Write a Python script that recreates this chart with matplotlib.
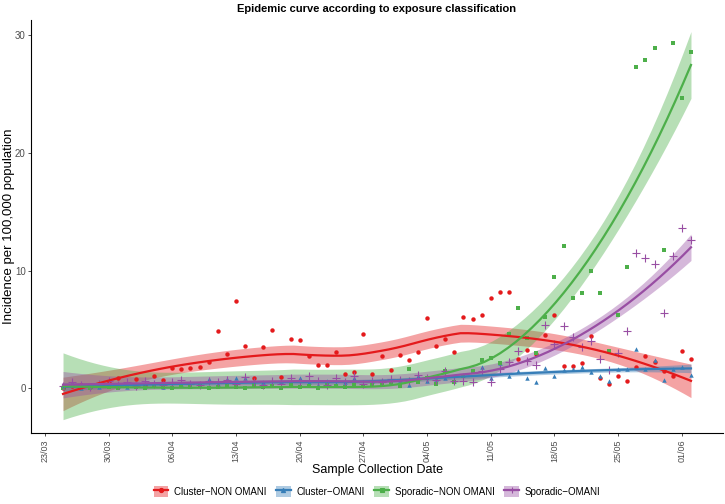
import numpy as np
import pandas as pd
import matplotlib
matplotlib.use("Agg")
import matplotlib.pyplot as plt
import matplotlib.dates as mdates
from matplotlib.patches import Patch
from matplotlib.lines import Line2D

plt.rcParams['font.family'] = ['Liberation Sans', 'DejaVu Sans']

# daily incidence per 100,000, 25/03/2020 .. 02/06/2020
dates = pd.date_range('2020-03-25', '2020-06-02', freq='D')

cluster_non_omani = [
    0.0, 0.2, 0.3, 0.1, 0.4, 0.5, 0.9, 0.4, 0.82, 0.3,
    1.08, 0.74, 1.75, 1.6, 1.7, 1.84, 2.2, 4.87, 2.9, 7.4,
    3.6, 0.88, 3.5, 4.93, 0.93, 4.2, 4.1, 2.7, 2.0, 2.0,
    3.1, 1.2, 1.4, 4.65, 1.19, 2.7, 1.58, 2.86, 2.4, 3.1,
    5.97, 3.6, 4.16, 3.06, 6.1, 5.86, 6.26, 7.7, 8.2, 8.2,
    2.5, 3.23, 2.9, 4.56, 6.2, 1.9, 1.9, 2.18, 4.45, 0.88,
    0.37, 1.0, 0.62, 1.84, 2.78, 2.2, 1.5, 1.0, 3.2, 2.5]

cluster_omani = [
    0.1, 0.45, 0.0, 0.2, 0.1, 0.3, 0.2, 0.1, 0.4, 0.2,
    0.3, 0.1, 0.2, 0.4, 0.2, 0.3, 0.82, 0.4, 0.82, 0.9,
    0.85, 0.3, 0.5, 0.3, 0.6, 0.4, 0.9, 0.5, 0.3, 0.6,
    0.4, 0.5, 0.85, 0.3, 0.6, 0.4, 0.5, 0.7, 0.31, 1.08,
    0.6, 0.8, 0.9, 0.6, 1.1, 1.47, 1.84, 0.9, 2.15, 1.0,
    1.5, 0.88, 0.51, 1.72, 1.0, 1.59, 1.67, 1.78, 1.42, 1.02,
    0.65, 1.67, 1.67, 3.37, 1.6, 2.38, 0.74, 1.6, 1.84, 1.13]

sporadic_non_omani = [
    0.0, 0.2, 0.1, 0.0, 0.2, 0.1, 0.0, 0.2, 0.1, 0.0,
    0.2, 0.1, 0.0, 0.2, 0.1, 0.2, 0.0, 0.1, 0.2, 0.1,
    0.0, 0.3, 0.1, 0.2, 0.0, 0.3, 0.1, 0.2, 0.0, 0.3,
    0.2, 0.1, 0.4, 0.2, 0.3, 0.3, 0.5, 0.2, 1.6, 0.5,
    0.9, 0.34, 1.44, 0.5, 1.0, 1.47, 2.38, 2.6, 2.15, 4.65,
    6.85, 4.27, 3.0, 6.06, 9.49, 12.12, 7.7, 8.1, 10.0, 8.1,
    3.2, 6.23, 10.28, 27.3, 27.95, 28.97, 11.75, 29.4, 24.67, 28.6]

sporadic_omani = [
    0.2, 0.5, 0.3, 0.1, 0.4, 0.6, 0.3, 0.5, 0.2, 0.6,
    0.4, 0.3, 0.5, 0.7, 0.4, 0.3, 0.6, 0.5, 0.7, 0.4,
    0.93, 0.5, 0.3, 0.6, 0.4, 0.9, 0.5, 1.0, 0.6, 0.3,
    0.9, 0.5, 1.0, 0.4, 0.6, 0.5, 0.8, 0.7, 0.6, 1.1,
    0.9, 0.7, 1.5, 0.6, 0.62, 0.57, 1.5, 0.52, 1.6, 2.24,
    3.14, 2.3, 2.0, 5.4, 3.74, 5.27, 4.36, 3.5, 4.0, 2.5,
    1.58, 3.03, 4.9, 11.47, 11.1, 10.6, 6.43, 11.27, 13.65, 12.63]

groups = ['Cluster\u2212NON OMANI', 'Cluster\u2212OMANI',
          'Sporadic\u2212NON OMANI', 'Sporadic\u2212OMANI']
series = [cluster_non_omani, cluster_omani, sporadic_non_omani, sporadic_omani]
colors = ['#E41A1C', '#377EB8', '#4DAF4A', '#984EA3']
markers = ['o', '^', 's', '+']

tick_dates = pd.date_range('2020-03-23', '2020-06-01', freq='7D')


def loess_fit(x, y, xs, span=0.75):
    # local quadratic loess with tricube weights, like R's loess()
    n = len(x)
    q = int(np.floor(n * span))

    def rows(pts):
        out = []
        for x0 in pts:
            d = np.abs(x - x0)
            h = np.sort(d)[q - 1]
            w = np.clip(1 - (d / h) ** 3, 0, None) ** 3
            X = np.column_stack([np.ones(n), x - x0, (x - x0) ** 2])
            XtW = X.T * w
            out.append(np.linalg.solve(XtW @ X, XtW)[0])
        return np.array(out)

    L = rows(x)
    M = np.eye(n) - L
    d1 = np.trace(M.T @ M)
    resid = y - L @ y
    sigma = np.sqrt(np.sum(resid ** 2) / d1)
    Ls = rows(xs)
    fit = Ls @ y
    se = sigma * np.sqrt(np.sum(Ls ** 2, axis=1))
    return fit, se


fig = plt.figure(figsize=(7.25, 5.04), dpi=100)
ax = fig.add_axes([0.043, 0.141, 0.954, 0.819])

xnum = mdates.date2num(dates)
xs = np.linspace(xnum.min(), xnum.max(), 80)

for vals, col, mk in zip(series, colors, markers):
    if mk == '+':
        ax.plot(xnum, vals, linestyle='none', marker=mk, color=col,
                markersize=5.5, markeredgewidth=0.8)
    else:
        ax.plot(xnum, vals, linestyle='none', marker=mk, color=col,
                markersize=3.2, markeredgewidth=0)

handles = []
for vals, col, mk, name in zip(series, colors, markers, groups):
    fit, se = loess_fit(xnum, np.array(vals), xs)
    ax.fill_between(xs, fit - 2.0 * se, fit + 2.0 * se, color=col,
                    alpha=0.4, linewidth=0)
    ax.plot(xs, fit, color=col, linewidth=1.6)
    h_line = Line2D([], [], color=col, linewidth=1.6, marker=mk,
                    markersize=3 if mk != '+' else 5, markeredgewidth=0.8)
    handles.append((Patch(facecolor=col, alpha=0.4, linewidth=0), h_line))

ax.set_xlim(mdates.date2num(pd.Timestamp('2020-03-21 12:00')),
            mdates.date2num(pd.Timestamp('2020-06-05 12:00')))
ax.set_ylim(-3.8, 31.3)
ax.set_xticks(mdates.date2num(tick_dates))
ax.set_xticklabels([d.strftime('%d/%m') for d in tick_dates], rotation=90,
                   fontsize=6.5, color='#4D4D4D')
ax.set_yticks([0, 10, 20, 30])
ax.tick_params(axis='y', labelsize=7, labelcolor='#4D4D4D', pad=1.5)
ax.tick_params(axis='x', pad=2)
ax.tick_params(length=2.5, width=0.6, color='#333333')

for s in ['top', 'right']:
    ax.spines[s].set_visible(False)
for s in ['left', 'bottom']:
    ax.spines[s].set_linewidth(0.8)

ax.set_xlabel('Sample Collection Date', fontsize=9)
ax.xaxis.set_label_coords(0.5, -0.075)
ax.set_ylabel('Incidence per 100,000 population', fontsize=9.5)
ax.yaxis.set_label_coords(-0.024, 0.5)
ax.set_title('Epidemic curve according to exposure classification',
             fontsize=8, fontweight='bold', pad=6)

fig.legend(handles, groups, loc='center', bbox_to_anchor=(0.52, 0.025),
           ncol=4, frameon=False, fontsize=7, handlelength=1.5,
           handleheight=1.3, columnspacing=1.0, handletextpad=0.6)

fig.savefig('out.png', dpi=100)
